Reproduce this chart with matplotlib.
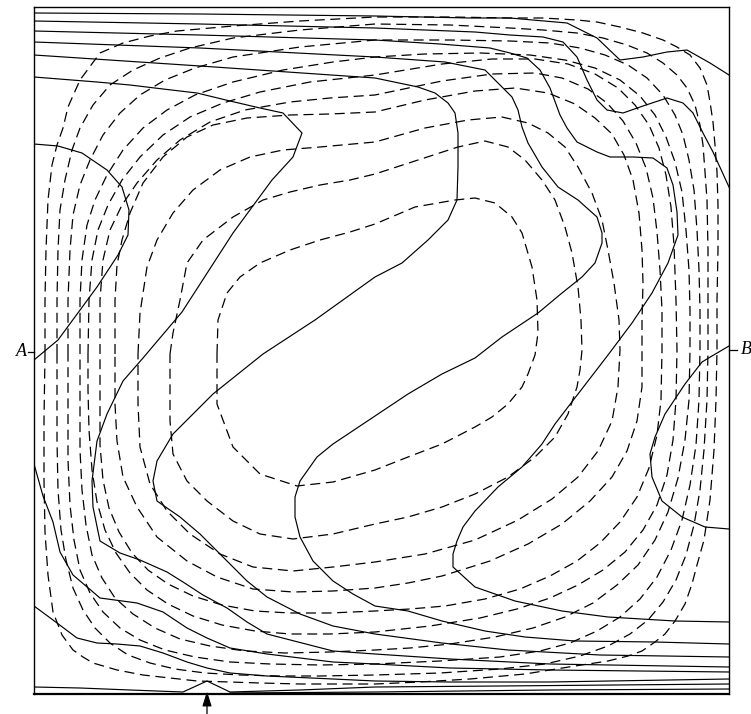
import numpy as np
import matplotlib.pyplot as plt

# cavity walls (pixel units of the original figure)
X_LEFT, X_RIGHT = 34, 729
Y_TOP, Y_BOTTOM = 7, 694

# isotherms (solid lines)
iso_a = [(34, 13), (200, 14), (375, 16), (470, 18), (510, 18), (567, 23), (597, 38), (620, 60),
         (643, 57), (667, 52), (687, 50), (710, 63), (729, 75)]
iso_b = [(34, 21), (200, 24), (375, 28), (475, 32), (510, 35), (543, 37), (563, 42), (577, 57),
         (587, 80), (597, 100), (607, 110), (623, 113), (643, 106), (667, 98), (683, 103),
         (693, 113), (703, 133), (713, 152), (729, 187)]
iso_c = [(34, 31), (200, 35), (375, 40), (440, 44), (490, 48), (510, 53), (527, 58), (540, 70),
         (550, 88), (560, 115), (567, 128), (577, 142), (597, 152), (610, 157), (633, 157),
         (653, 158), (667, 168), (673, 185), (677, 212), (678, 235), (668, 263), (652, 293),
         (632, 323), (608, 355), (588, 381), (568, 407), (555, 424), (542, 444), (522, 467),
         (498, 487), (475, 511), (463, 527), (457, 541), (453, 554), (453, 567), (475, 587),
         (515, 601), (562, 611), (608, 617), (675, 621), (729, 622)]
iso_d = [(34, 42), (200, 48), (375, 57), (445, 62), (485, 70), (492, 77), (512, 97), (518, 110),
         (522, 127), (528, 143), (542, 167), (558, 187), (578, 200), (597, 217), (602, 233),
         (602, 243), (595, 263), (582, 277), (562, 293), (538, 313), (502, 337), (475, 358),
         (442, 374), (408, 394), (375, 416), (333, 444), (317, 457), (300, 481), (295, 497),
         (295, 517), (300, 537), (313, 561), (333, 581), (353, 594), (375, 606), (408, 611),
         (442, 621), (485, 631), (525, 637), (575, 641), (655, 642), (729, 644)]
iso_e = [(34, 55), (200, 66), (375, 78), (418, 87), (435, 93), (448, 103), (455, 113), (458, 133),
         (458, 167), (457, 200), (448, 220), (428, 240), (402, 263), (375, 277), (315, 320),
         (263, 354), (213, 394), (173, 434), (157, 461), (153, 481), (157, 501), (180, 517),
         (200, 534), (227, 561), (247, 581), (267, 597), (300, 614), (333, 626), (375, 634),
         (442, 643), (508, 650), (600, 655), (729, 657)]
iso_f = [(34, 77), (97, 82), (130, 85), (163, 89), (197, 93), (230, 101), (260, 108), (283, 113),
         (302, 133), (293, 157), (272, 180), (233, 233), (182, 312), (143, 358), (123, 381),
         (107, 414), (97, 441), (92, 481), (93, 507), (100, 541), (120, 553), (140, 560),
         (167, 572), (183, 582), (203, 595), (227, 608), (247, 622), (267, 634), (333, 651),
         (375, 654), (450, 659), (550, 664), (729, 667)]
iso_g = [(34, 464), (43, 496), (53, 522), (60, 552), (73, 575), (93, 592), (100, 598), (137, 603),
         (163, 612), (187, 628), (207, 638), (230, 648), (267, 654), (333, 662), (375, 664),
         (450, 668), (550, 670), (729, 672)]
iso_h = [(34, 606), (53, 620), (77, 638), (97, 643), (117, 644), (140, 646), (163, 653), (187, 662),
         (207, 668), (230, 673), (267, 676), (333, 679), (375, 681), (450, 682), (550, 682),
         (729, 679)]
iso_i = [(34, 687), (80, 688), (130, 690), (183, 692), (207, 681), (230, 692), (300, 690),
         (375, 687), (500, 686), (729, 684)]
iso_j = [(230, 693), (375, 692), (550, 690), (729, 689)]
iso_left = [(34, 144), (58, 146), (82, 153), (107, 170), (122, 187), (129, 210), (128, 235),
            (118, 255), (97, 287), (58, 340), (34, 360)]
iso_right = [(729, 346), (712, 356), (702, 362), (685, 384), (665, 414), (655, 437), (650, 454),
             (652, 477), (662, 501), (682, 517), (705, 527), (729, 529)]

# streamlines (dashed closed loops), outermost first
stream_1 = [(45, 354), (45, 300), (46, 250), (48, 200), (52, 165), (57, 145), (63, 128), (68, 107),
            (80, 80), (100, 53), (123, 43), (150, 36), (177, 31), (233, 26), (300, 21), (375, 17),
            (450, 17), (510, 18), (543, 18), (577, 20), (597, 22), (620, 27), (643, 33), (663, 40),
            (677, 47), (690, 55), (700, 68), (707, 85), (710, 102), (713, 122), (715, 145),
            (717, 172), (718, 205), (718, 250), (717, 300), (717, 350), (716, 400), (714, 450),
            (710, 500), (704, 540), (697, 565), (692, 584), (685, 604), (675, 621), (665, 634),
            (655, 642), (642, 651), (628, 656), (608, 661), (575, 666), (525, 674), (470, 679),
            (420, 682), (375, 684), (300, 684), (260, 683), (230, 682), (197, 681), (170, 678),
            (143, 675), (117, 670), (93, 663), (83, 657), (73, 650), (62, 635), (53, 612),
            (48, 575), (45, 532), (44, 480), (44, 420), (45, 354)]
stream_2 = [(57, 354), (57, 300), (58, 250), (60, 210), (65, 180), (72, 150), (80, 128), (93, 105),
            (110, 85), (133, 70), (160, 58), (190, 48), (233, 38), (300, 30), (375, 24), (450, 25),
            (510, 28), (543, 30), (577, 33), (603, 38), (627, 45), (647, 53), (663, 63), (677, 75),
            (687, 88), (695, 105), (700, 125), (703, 145), (705, 172), (707, 200), (708, 250),
            (708, 300), (708, 350), (707, 400), (704, 450), (700, 490), (694, 525), (686, 555),
            (676, 580), (663, 602), (648, 620), (630, 634), (608, 646), (580, 656), (545, 664),
            (500, 669), (440, 673), (375, 675), (320, 676), (280, 676), (240, 675), (205, 673),
            (175, 669), (150, 663), (128, 655), (110, 643), (95, 628), (83, 610), (73, 588),
            (66, 560), (61, 530), (58, 490), (57, 440), (57, 400), (57, 354)]
stream_3 = [(68, 354), (68, 300), (70, 250), (73, 215), (80, 185), (90, 160), (103, 135), (120, 113),
            (140, 95), (165, 80), (195, 68), (233, 57), (300, 47), (375, 40), (450, 40), (510, 41),
            (550, 43), (580, 48), (605, 55), (628, 65), (647, 78), (663, 95), (675, 115),
            (683, 135), (689, 160), (694, 190), (697, 230), (699, 270), (700, 310), (700, 350),
            (699, 400), (696, 445), (690, 485), (682, 520), (671, 550), (657, 577), (640, 599),
            (620, 617), (597, 631), (570, 643), (540, 651), (500, 657), (440, 661), (375, 664),
            (320, 665), (270, 664), (230, 662), (195, 657), (165, 650), (140, 640), (120, 628),
            (103, 612), (90, 593), (80, 570), (74, 540), (70, 505), (68, 460), (68, 410), (68, 354)]
stream_4 = [(80, 354), (80, 300), (82, 260), (87, 225), (95, 200), (107, 175), (123, 150), (143, 128),
            (167, 110), (195, 95), (233, 82), (283, 70), (333, 62), (375, 57), (425, 54), (480, 53),
            (530, 55), (565, 60), (595, 68), (620, 80), (640, 96), (655, 115), (666, 137),
            (675, 162), (682, 192), (686, 230), (689, 270), (690, 310), (690, 350), (689, 400),
            (685, 440), (678, 478), (668, 512), (655, 540), (638, 565), (617, 585), (593, 603),
            (565, 617), (533, 628), (495, 637), (450, 644), (410, 648), (375, 650), (330, 652),
            (285, 653), (245, 651), (210, 646), (180, 639), (155, 628), (133, 614), (115, 598),
            (102, 578), (92, 555), (86, 525), (82, 490), (80, 450), (80, 400), (80, 354)]
stream_5 = [(88, 354), (89, 300), (92, 260), (98, 230), (108, 205), (122, 180), (140, 157),
            (163, 135), (190, 117), (223, 103), (260, 92), (310, 82), (375, 75), (442, 64),
            (492, 59), (535, 59), (568, 64), (595, 74), (618, 88), (635, 105), (649, 125),
            (659, 148), (666, 175), (671, 207), (674, 245), (676, 300), (677, 350), (676, 400),
            (673, 440), (667, 475), (657, 505), (643, 530), (625, 552), (603, 570), (578, 585),
            (550, 598), (517, 609), (480, 618), (430, 626), (375, 632), (330, 634), (290, 634),
            (255, 631), (222, 625), (193, 616), (168, 604), (147, 590), (130, 573), (116, 553),
            (105, 530), (97, 502), (92, 470), (89, 430), (88, 390), (88, 354)]
stream_6 = [(100, 354), (100, 300), (103, 260), (110, 230), (122, 205), (137, 183), (157, 160),
            (180, 140), (210, 122), (245, 110), (290, 102), (330, 98), (375, 95), (442, 81),
            (492, 74), (535, 73), (562, 78), (588, 89), (607, 103), (623, 121), (636, 143),
            (646, 168), (653, 198), (657, 232), (660, 270), (662, 310), (662, 350), (661, 400),
            (657, 435), (649, 468), (637, 497), (620, 522), (600, 543), (577, 561), (550, 576),
            (520, 589), (485, 599), (445, 606), (410, 609), (375, 611), (330, 613), (290, 613),
            (255, 611), (222, 605), (193, 596), (168, 584), (148, 570), (132, 553), (119, 532),
            (109, 508), (103, 480), (100, 445), (100, 400), (100, 354)]
stream_7 = [(115, 354), (115, 300), (117, 265), (122, 240), (130, 213), (143, 183), (163, 157),
            (187, 137), (213, 125), (247, 118), (290, 115), (330, 114), (375, 112), (425, 100),
            (475, 91), (515, 88), (548, 93), (575, 104), (595, 118), (612, 134), (624, 155),
            (633, 180), (639, 213), (642, 250), (643, 283), (642, 320), (642, 350), (642, 387),
            (637, 421), (627, 451), (612, 477), (590, 501), (562, 524), (528, 544), (490, 561),
            (442, 576), (408, 583), (375, 588), (333, 591), (293, 592), (253, 589), (217, 577),
            (187, 561), (157, 537), (137, 507), (123, 477), (117, 441), (115, 404), (115, 354)]
stream_8 = [(138, 354), (140, 313), (147, 267), (157, 240), (173, 213), (193, 190), (220, 170),
            (250, 157), (283, 150), (320, 147), (375, 142), (425, 128), (468, 120), (502, 117),
            (528, 123), (548, 133), (565, 147), (578, 167), (592, 193), (602, 220), (608, 250),
            (614, 283), (619, 320), (620, 350), (618, 387), (612, 421), (598, 451), (578, 477),
            (552, 499), (518, 520), (475, 540), (425, 554), (375, 562), (333, 567), (293, 571),
            (253, 567), (220, 554), (190, 534), (167, 511), (150, 484), (140, 447), (138, 404),
            (138, 354)]
stream_9 = [(170, 354), (173, 333), (180, 300), (187, 263), (203, 240), (233, 217), (263, 200),
            (290, 192), (320, 185), (350, 180), (375, 174), (418, 160), (458, 147), (485, 141),
            (508, 147), (525, 160), (542, 180), (555, 200), (565, 227), (572, 253), (578, 287),
            (581, 320), (582, 350), (580, 370), (577, 387), (568, 414), (555, 437), (535, 457),
            (508, 477), (475, 494), (442, 507), (408, 517), (375, 524), (333, 534), (293, 539),
            (260, 534), (233, 521), (207, 501), (187, 481), (173, 454), (170, 421), (170, 387),
            (170, 354)]
stream_10 = [(217, 354), (218, 320), (227, 293), (240, 277), (260, 263), (290, 250), (320, 240),
             (350, 232), (375, 224), (415, 207), (455, 200), (475, 198), (495, 203), (512, 217),
             (522, 233), (532, 267), (537, 300), (538, 333), (535, 355), (528, 374), (522, 387),
             (508, 404), (492, 417), (475, 427), (442, 444), (408, 457), (375, 470), (333, 482),
             (297, 486), (260, 474), (233, 447), (217, 404), (217, 354)]

isotherms = [iso_a, iso_b, iso_c, iso_d, iso_e, iso_f, iso_g, iso_h, iso_i, iso_j,
             iso_left, iso_right]
streamlines = [stream_1, stream_2, stream_3, stream_4, stream_5, stream_6, stream_7,
               stream_8, stream_9, stream_10]

# section A-B and marked point on the bottom wall (pixel readings)
y_A, y_B = 352, 350
x_arrow = 207


def to_cavity(pts):
    a = np.asarray(pts, dtype=float)
    x = (a[:, 0] - X_LEFT) / (X_RIGHT - X_LEFT)
    y = (Y_BOTTOM - a[:, 1]) / (Y_BOTTOM - Y_TOP)
    return x, y


W, H = 751, 714
fig = plt.figure(figsize=(W / 100, H / 100), dpi=100)
ax = fig.add_axes([X_LEFT / W, (H - Y_BOTTOM) / H,
                   (X_RIGHT - X_LEFT) / W, (Y_BOTTOM - Y_TOP) / H])
ax.set_xlim(0, 1)
ax.set_ylim(0, 1)
ax.set_xticks([])
ax.set_yticks([])
for side in ax.spines.values():
    side.set_linewidth(1.0)
ax.spines['bottom'].set_linewidth(1.6)

for line in isotherms:
    x, y = to_cavity(line)
    ax.plot(x, y, color='black', lw=0.85)

for loop in streamlines:
    x, y = to_cavity(loop)
    ax.plot(x, y, color='black', lw=0.9, linestyle=(0, (8, 4.5)))

# A - B markers
ya = (Y_BOTTOM - y_A) / (Y_BOTTOM - Y_TOP)
yb = (Y_BOTTOM - y_B) / (Y_BOTTOM - Y_TOP)
ax.plot([-0.009, 0], [ya, ya], color='black', lw=0.9, clip_on=False)
ax.plot([1, 1.012], [yb, yb], color='black', lw=0.9, clip_on=False)
ax.text(-0.010, ya, 'A', ha='right', va='center', fontsize=13, fontstyle='italic',
        family='Liberation Serif')
ax.text(1.017, yb, 'B', ha='left', va='center', fontsize=13, fontstyle='italic',
        family='Liberation Serif')

# arrow under the bottom wall
xa = (x_arrow - X_LEFT) / (X_RIGHT - X_LEFT)
ax.annotate('', xy=(xa, 0.004), xytext=(xa, -0.03),
            arrowprops=dict(arrowstyle='-|>,head_length=0.9,head_width=0.28',
                            color='black', lw=0.9, shrinkA=0, shrinkB=0),
            annotation_clip=False)

fig.savefig('out.png', dpi=100)
